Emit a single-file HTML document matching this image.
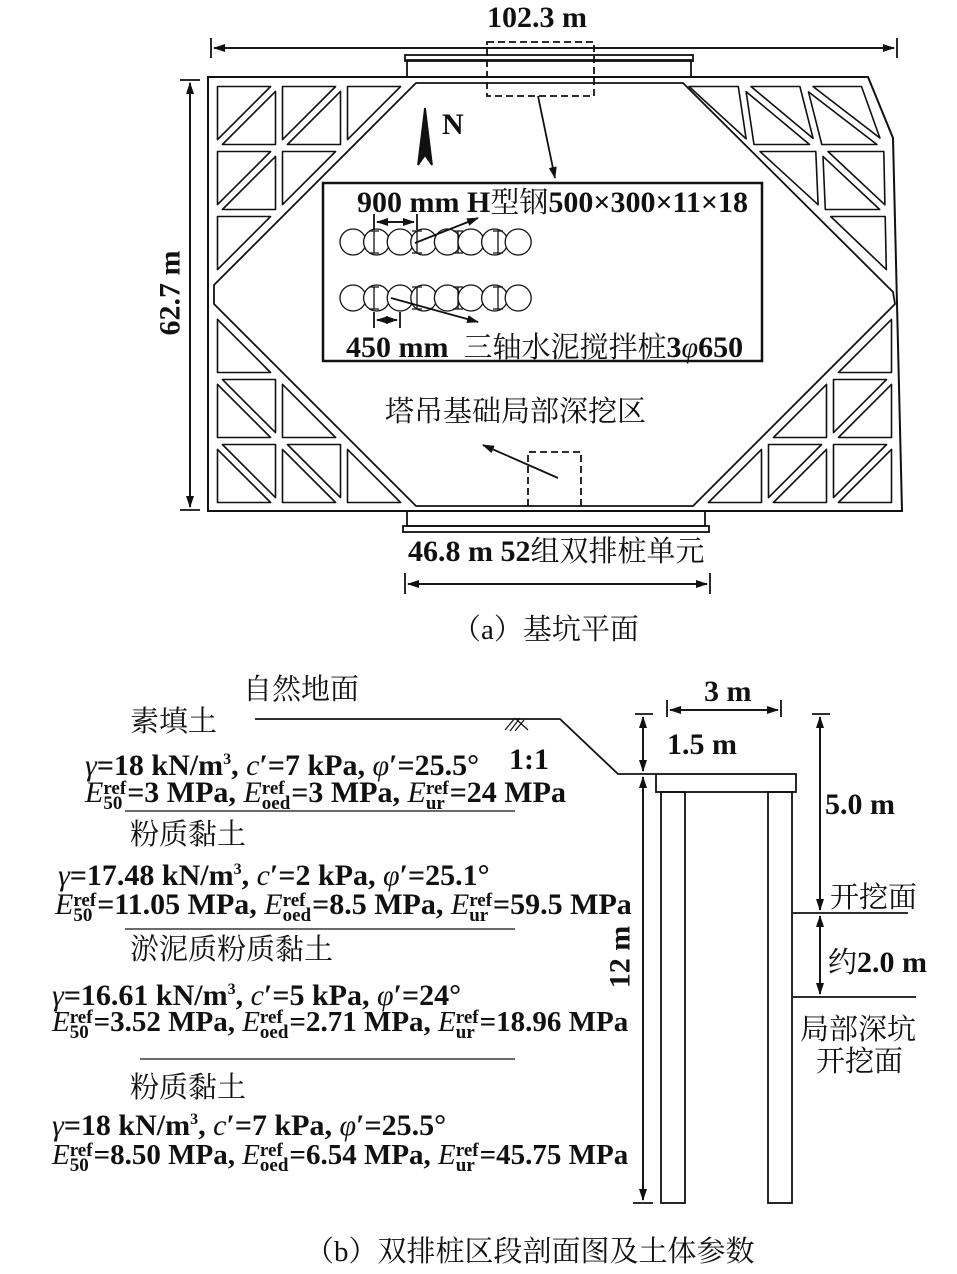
<!DOCTYPE html>
<html><head><meta charset="utf-8"><style>
body{margin:0;background:#fff;width:957px;height:1274px;position:relative;overflow:hidden}
svg{position:absolute;left:0;top:0}
.t{position:absolute;white-space:nowrap;font-family:"Liberation Serif","Noto Serif CJK SC",serif;font-weight:bold;font-size:30px;line-height:30px;color:#111}
.c{font-family:"Liberation Serif","Noto Serif CJK SC",serif;font-weight:normal;font-size:29px}
.E{font-style:italic;font-weight:normal}
.i{font-style:italic;font-weight:normal}
.st{display:inline-block;vertical-align:-7px;font-size:19px;line-height:15px;text-align:left;margin-right:1px}
.st span{display:block}
sup{font-size:16px}
.n{font-size:29px}
</style></head><body>
<svg id="s" width="957" height="1274" viewBox="0 0 957 1274">
<defs><marker id="a" markerWidth="12" markerHeight="8" refX="11" refY="4" orient="auto" markerUnits="userSpaceOnUse"><path d="M0,0 L12,4 L0,8 Z" fill="#111"/></marker></defs>
<g stroke="#111" fill="none" stroke-width="1.8">
<line x1="211" y1="38" x2="211" y2="58"/><line x1="897" y1="38" x2="897" y2="58"/>
<line x1="214" y1="48" x2="894" y2="48" marker-end="url(#a)"/><line x1="894" y1="48" x2="214" y2="48" marker-end="url(#a)"/>
<line x1="180" y1="80" x2="200" y2="80"/><line x1="180" y1="510" x2="200" y2="510"/>
<line x1="190" y1="83" x2="190" y2="507" marker-end="url(#a)"/><line x1="190" y1="507" x2="190" y2="83" marker-end="url(#a)"/>
<polygon points="208,77 868,77 893,138 902,511 208,511" stroke-width="2"/>
<polygon points="416,83 683,83 893,292 895,304 693,506 416,506 214,304 214,285" stroke-linejoin="round"/>
<rect x="407" y="60" width="284" height="17"/><rect x="405" y="55" width="288" height="6"/>
<rect x="487" y="42" width="107" height="54" stroke-dasharray="7,4"/>
<line x1="538" y1="96" x2="555" y2="178" marker-end="url(#a)"/>
<rect x="407" y="511" width="298" height="15"/><rect x="403" y="526" width="306" height="6"/>
<polyline points="528,506 528,452 581,452 581,506" stroke-dasharray="7,4"/>
<line x1="558" y1="478" x2="483" y2="445" marker-end="url(#a)"/>
<line x1="405" y1="573" x2="405" y2="594"/><line x1="710" y1="573" x2="710" y2="594"/>
<line x1="408" y1="584" x2="707" y2="584" marker-end="url(#a)"/><line x1="707" y1="584" x2="408" y2="584" marker-end="url(#a)"/>
<rect x="323" y="183" width="439" height="178" stroke-width="2.5" fill="#fff"/>
<g id="piles" stroke-width="1.3"></g>
<line x1="374" y1="214" x2="374" y2="230"/><line x1="417" y1="214" x2="417" y2="230"/>
<line x1="377" y1="222" x2="414" y2="222" marker-end="url(#a)"/><line x1="414" y1="222" x2="377" y2="222" marker-end="url(#a)"/>
<line x1="415" y1="243" x2="478" y2="218" marker-end="url(#a)"/>
<line x1="391" y1="298" x2="478" y2="322" marker-end="url(#a)"/>
<line x1="374" y1="312" x2="374" y2="328"/><line x1="400" y1="312" x2="400" y2="328"/>
<line x1="377" y1="320" x2="397" y2="320" marker-end="url(#a)"/><line x1="397" y1="320" x2="377" y2="320" marker-end="url(#a)"/>
<path d="M425,108 L432,165 L425,155 L418,165 Z" fill="#111"/>
<g id="tri" stroke-width="1.6" stroke-linejoin="round"></g>

<polyline points="255,719 560,719 618,774 656,774"/>
<path d="M505,730 L515,718 M510,731 L520,718 M515,731 L524,720 M516,719 L528,730" stroke-width="1.2"/>
<rect x="656" y="774" width="140" height="18"/>
<rect x="661" y="792" width="24" height="411"/>
<rect x="768" y="792" width="24" height="411"/>
<line x1="635" y1="714" x2="653" y2="714"/>
<line x1="643" y1="717" x2="643" y2="771" marker-end="url(#a)"/><line x1="643" y1="771" x2="643" y2="717" marker-end="url(#a)"/>
<line x1="643" y1="777" x2="643" y2="1200" marker-end="url(#a)"/><line x1="643" y1="1200" x2="643" y2="777" marker-end="url(#a)"/>
<line x1="633" y1="1203" x2="653" y2="1203"/>
<line x1="667" y1="700" x2="667" y2="717"/><line x1="781" y1="700" x2="781" y2="717"/>
<line x1="670" y1="710" x2="778" y2="710" marker-end="url(#a)"/><line x1="778" y1="710" x2="670" y2="710" marker-end="url(#a)"/>
<line x1="812" y1="714" x2="830" y2="714"/>
<line x1="820" y1="717" x2="820" y2="910" marker-end="url(#a)"/><line x1="820" y1="910" x2="820" y2="717" marker-end="url(#a)"/>
<line x1="793" y1="913" x2="908" y2="913"/>
<line x1="820" y1="916" x2="820" y2="994" marker-end="url(#a)"/><line x1="820" y1="994" x2="820" y2="916" marker-end="url(#a)"/>
<line x1="793" y1="997" x2="916" y2="997"/>
<line x1="125" y1="811" x2="515" y2="811" stroke-width="1.3"/>
<line x1="125" y1="929" x2="515" y2="929" stroke-width="1.3"/>
<line x1="140" y1="1059" x2="515" y2="1059" stroke-width="1.3"/>
</g>
</svg>
<script>
(function(){
var ns="http://www.w3.org/2000/svg";
var p=document.getElementById('piles');
[242,298].forEach(function(y){
 for(var i=0;i<8;i++){var c=document.createElementNS(ns,'circle');c.setAttribute('cx',353+i*23.6);c.setAttribute('cy',y);c.setAttribute('r',13);c.setAttribute('fill','#fff');p.appendChild(c);}
 [374,417,458,498].forEach(function(x){var l=document.createElementNS(ns,'path');l.setAttribute('d','M'+(x-5)+','+(y-11)+'h10M'+x+','+(y-11)+'v22M'+(x-5)+','+(y+11)+'h10');p.appendChild(l);});
});
var g=document.getElementById('tri');
var S=65,d=3.5;
function inset(P){
 var a=Math.hypot(P[1][0]-P[2][0],P[1][1]-P[2][1]),b=Math.hypot(P[0][0]-P[2][0],P[0][1]-P[2][1]),c=Math.hypot(P[0][0]-P[1][0],P[0][1]-P[1][1]);
 var s=a+b+c,ix=(a*P[0][0]+b*P[1][0]+c*P[2][0])/s,iy=(a*P[0][1]+b*P[1][1]+c*P[2][1])/s;
 var area=Math.abs((P[1][0]-P[0][0])*(P[2][1]-P[0][1])-(P[2][0]-P[0][0])*(P[1][1]-P[0][1]))/2;
 var r=area/(s/2),k=(r-d)/r;
 return P.map(function(q){return [ix+(q[0]-ix)*k,iy+(q[1]-iy)*k];});
}
function build(m){
 for(var i=0;i<3;i++)for(var j=0;j<3-i;j++){
  var tris=[[m(i,j),m(i+1,j),m(i,j+1)]];
  if(i+j<=1)tris.push([m(i+1,j),m(i+1,j+1),m(i,j+1)]);
  tris.forEach(function(T){var q=inset(T);var e=document.createElementNS(ns,'polygon');e.setAttribute('points',q.map(function(z){return z[0].toFixed(1)+','+z[1].toFixed(1)}).join(' '));e.setAttribute('fill','#fff');g.appendChild(e);});
 }
}
[[214,83,1,1],[214,506,1,-1],[895,506,-1,-1]].forEach(function(C){
 build(function(u,v){return [C[0]+C[2]*u*S,C[1]+C[3]*v*S];});
});
function xr(v){var y=83+v*65; if(y<=138) return 866+(893-866)*(y-83)/55; return 889+(897-889)*(y-138)/(511-138);}
function hx(v){return 680+71*v;}
build(function(u,v){var y=83+v*65; if(v>=3) return [xr(3)-2,y]; var R=xr(v)-2; return [R-u*(R-hx(v))/(3-v),y];});
})();
</script>
<div class="t" style="left:487px;top:3px">102.3 m</div>
<div class="t" style="left:128px;top:278px;transform:rotate(-90deg);transform-origin:center">62.7 m</div>
<div class="t" style="left:442px;top:110px">N</div>
<div class="t" style="left:357px;top:188px">900 mm H<span class="c">型钢</span>500×300×11×18</div>
<div class="t" style="left:346px;top:333px">450 mm&nbsp; <span class="c">三轴水泥搅拌桩</span>3<span class="i">φ</span>650</div>
<div class="t c" style="left:385px;top:397px">塔吊基础局部深挖区</div>
<div class="t" style="left:408px;top:537px">46.8 m 52<span class="c">组双排桩单元</span></div>
<div class="t c" style="left:452px;top:615px">（a）基坑平面</div>

<div class="t c" style="left:243px;top:675px">自然地面</div>
<div class="t c" style="left:130px;top:707px">素填土</div>
<div class="t" style="left:85px;top:745px"><span class="i">γ</span>=18 kN/m<sup>3</sup>, <span class="i">c</span>′=7 kPa, <span class="i">φ</span>′=25.5°</div>
<div class="t" style="left:509px;top:745px">1:1</div>
<div class="t" style="left:85px;top:778px"><span class="E">E</span><span class="st"><span>ref</span><span>50</span></span>=3 MPa, <span class="E">E</span><span class="st"><span>ref</span><span>oed</span></span>=3 MPa, <span class="E">E</span><span class="st"><span>ref</span><span>ur</span></span>=24 MPa</div>
<div class="t c" style="left:130px;top:820px">粉质黏土</div>
<div class="t" style="left:58px;top:855px"><span class="i">γ</span>=17.48 kN/m<sup>3</sup>, <span class="i">c</span>′=2 kPa, <span class="i">φ</span>′=25.1°</div>
<div class="t" style="left:55px;top:890px"><span class="E">E</span><span class="st"><span>ref</span><span>50</span></span>=11.05 MPa, <span class="E">E</span><span class="st"><span>ref</span><span>oed</span></span>=8.5 MPa, <span class="E">E</span><span class="st"><span>ref</span><span>ur</span></span>=59.5 MPa</div>
<div class="t c" style="left:130px;top:935px">淤泥质粉质黏土</div>
<div class="t" style="left:52px;top:975px"><span class="i">γ</span>=16.61 kN/m<sup>3</sup>, <span class="i">c</span>′=5 kPa, <span class="i">φ</span>′=24°</div>
<div class="t n" style="left:52px;top:1007px"><span class="E">E</span><span class="st"><span>ref</span><span>50</span></span>=3.52 MPa, <span class="E">E</span><span class="st"><span>ref</span><span>oed</span></span>=2.71 MPa, <span class="E">E</span><span class="st"><span>ref</span><span>ur</span></span>=18.96 MPa</div>
<div class="t c" style="left:130px;top:1073px">粉质黏土</div>
<div class="t" style="left:52px;top:1105px"><span class="i">γ</span>=18 kN/m<sup>3</sup>, <span class="i">c</span>′=7 kPa, <span class="i">φ</span>′=25.5°</div>
<div class="t n" style="left:52px;top:1140px"><span class="E">E</span><span class="st"><span>ref</span><span>50</span></span>=8.50 MPa, <span class="E">E</span><span class="st"><span>ref</span><span>oed</span></span>=6.54 MPa, <span class="E">E</span><span class="st"><span>ref</span><span>ur</span></span>=45.75 MPa</div>

<div class="t" style="left:704px;top:677px">3 m</div>
<div class="t" style="left:667px;top:730px">1.5 m</div>
<div class="t" style="left:825px;top:790px">5.0 m</div>
<div class="t" style="left:589px;top:942px;transform:rotate(-90deg);transform-origin:center">12 m</div>
<div class="t c" style="left:830px;top:883px">开挖面</div>
<div class="t" style="left:828px;top:948px"><span class="c">约</span>2.0 m</div>
<div class="t c" style="left:800px;top:1015px">局部深坑</div>
<div class="t c" style="left:816px;top:1047px">开挖面</div>
<div class="t c" style="left:305px;top:1237px">（b）双排桩区段剖面图及土体参数</div>
</body></html>
